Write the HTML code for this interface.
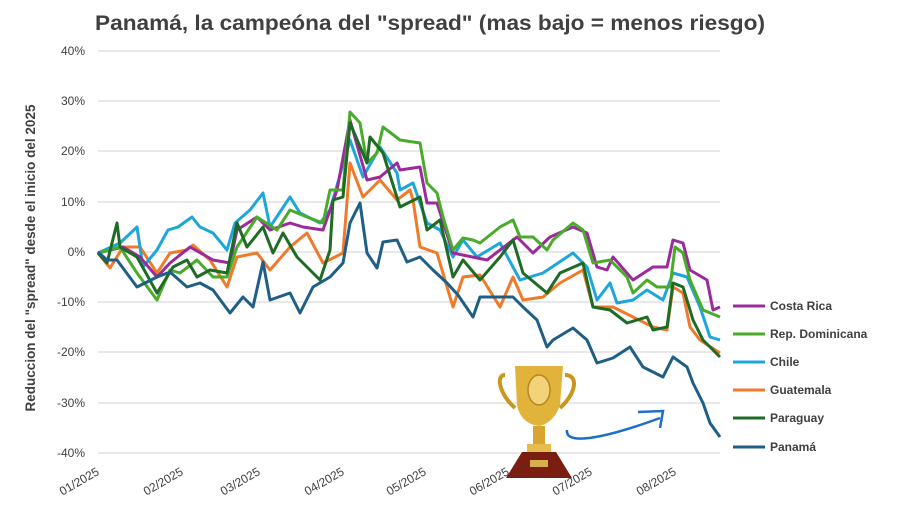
<!DOCTYPE html>
<html><head><meta charset="utf-8"><style>
body{margin:0;background:#fff;}
svg{display:block;font-family:"Liberation Sans",sans-serif;}
</style></head><body>
<svg width="900" height="506" viewBox="0 0 900 506">
<rect width="900" height="506" fill="#fff"/>
<text x="430" y="30" text-anchor="middle" font-size="21" font-weight="bold" fill="#404040" textLength="670" lengthAdjust="spacingAndGlyphs">Panamá, la campeóna del "spread" (mas bajo = menos riesgo)</text>
<g stroke="#d9d9d9" stroke-width="1.3">
<line x1="98" x2="720" y1="51" y2="51"/><line x1="98" x2="720" y1="101" y2="101"/><line x1="98" x2="720" y1="151" y2="151"/><line x1="98" x2="720" y1="202" y2="202"/><line x1="98" x2="720" y1="252" y2="252"/><line x1="98" x2="720" y1="302" y2="302"/><line x1="98" x2="720" y1="352" y2="352"/><line x1="98" x2="720" y1="403" y2="403"/><line x1="98" x2="720" y1="453" y2="453"/>
</g>
<g font-size="12" fill="#404040" text-anchor="end">
<text x="85" y="55">40%</text><text x="85" y="105">30%</text><text x="85" y="155">20%</text><text x="85" y="206">10%</text><text x="85" y="256">0%</text><text x="85" y="306">-10%</text><text x="85" y="356">-20%</text><text x="85" y="407">-30%</text><text x="85" y="457">-40%</text>
</g>
<text transform="translate(35,258) rotate(-90)" text-anchor="middle" font-size="13.5" font-weight="bold" fill="#404040">Reduccion del "spread" desde el inicio del 2025</text>
<g font-size="12" fill="#404040" text-anchor="end">
<text transform="translate(100,474) rotate(-30)">01/2025</text>
<text transform="translate(184,474) rotate(-30)">02/2025</text>
<text transform="translate(261,474) rotate(-30)">03/2025</text>
<text transform="translate(345,474) rotate(-30)">04/2025</text>
<text transform="translate(427,474) rotate(-30)">05/2025</text>
<text transform="translate(510,474) rotate(-30)">06/2025</text>
<text transform="translate(593,474) rotate(-30)">07/2025</text>
<text transform="translate(677,474) rotate(-30)">08/2025</text>
</g>
<g fill="none" stroke-width="3" stroke-linejoin="round">
<polyline stroke="#ef7a2a" points="98,253 110,268 123,247 140,247 157,273 170,253 187,250 193,245 210,260 227,287 237,257 257,253 270,270 290,247 307,233 323,263 343,253 350,163 363,197 380,180 397,200 410,190 413,200 420,247 437,253 453,307 463,277 480,275 500,307 513,277 523,300 543,297 560,283 583,270 593,307 613,307 633,317 653,327 667,330 673,287 683,293 690,327 700,340 720,353"/>
<polyline stroke="#1ea6db" points="98,253 120,243 137,227 143,267 157,250 168,230 178,227 192,217 200,227 213,233 227,250 235,223 250,210 263,193 270,227 290,197 300,213 320,223 330,210 350,140 363,177 380,147 397,173 400,190 413,183 427,223 440,230 453,257 463,240 477,257 500,243 520,280 543,273 573,253 587,267 597,300 610,283 617,303 633,300 647,290 663,300 673,273 687,277 700,307 710,337 720,340"/>
<polyline stroke="#9b2a9b" points="98,253 123,247 140,257 157,277 170,263 190,247 213,260 230,263 237,230 257,217 270,230 290,223 303,227 323,230 337,190 350,120 367,180 380,177 397,163 400,170 420,167 427,203 437,203 453,253 487,260 517,237 533,253 550,237 573,227 587,233 597,267 607,270 613,257 633,280 653,267 667,267 673,240 683,243 690,270 707,280 713,310 720,307"/>
<polyline stroke="#4aab2b" points="98,253 120,247 137,273 157,300 170,270 180,273 197,260 213,277 227,277 237,247 257,217 277,230 290,210 307,217 323,223 330,190 343,190 350,112 360,123 367,163 377,153 383,127 400,140 420,143 427,183 437,193 443,217 453,250 463,238 473,240 480,243 500,227 513,220 520,237 533,237 547,250 553,240 573,223 583,230 593,263 610,260 627,277 633,293 647,280 657,287 670,287 675,247 683,253 690,280 703,310 720,317"/>
<polyline stroke="#1e6b25" points="98,253 107,263 117,223 120,247 137,257 157,293 173,267 187,260 197,277 210,270 227,273 237,223 247,247 263,227 273,253 283,233 297,257 320,280 330,250 333,200 343,197 350,123 367,163 370,137 383,153 400,207 420,197 427,230 440,220 453,277 463,260 480,280 500,257 513,240 523,273 547,293 560,273 583,263 593,307 610,310 627,323 647,317 653,330 667,327 673,283 683,287 693,320 703,340 720,357"/>
<polyline stroke="#1f5f86" points="98,252 107,260 117,260 137,287 157,277 170,272 187,287 200,283 213,290 230,313 243,297 253,307 263,262 270,300 290,293 300,313 313,287 330,277 343,263 350,223 360,203 367,253 377,268 383,242 397,240 407,262 420,257 433,270 447,283 458,295 473,317 480,297 500,297 513,297 523,307 537,320 547,347 553,340 573,328 587,340 597,363 613,358 630,347 643,367 663,377 673,357 687,367 693,383 703,403 710,423 720,437"/>
</g>
<!-- trophy -->
<g>
<path d="M505,375 C495,375 500,395 515,408" fill="none" stroke="#c9961e" stroke-width="4"/>
<path d="M565,375 C580,375 575,395 560,408" fill="none" stroke="#c9961e" stroke-width="4"/>
<path d="M515,366 L563,366 L560,405 C555,420 545,425 539,426 C530,425 520,420 517,405 Z" fill="#e2b33a"/>
<ellipse cx="539" cy="390" rx="11" ry="15" fill="#f3d37a" stroke="#b8861a" stroke-width="1.5"/>
<rect x="533" y="426" width="12" height="20" fill="#d9a531"/>
<rect x="527" y="444" width="24" height="8" fill="#e6bc4a"/>
<path d="M522,452 L556,452 L572,478 L506,478 Z" fill="#7a1e12"/>
<rect x="530" y="460" width="18" height="7" fill="#d7b04a"/>
</g>
<path d="M567,430 C565,445 600,440 660,418" fill="none" stroke="#1c6fc7" stroke-width="2.5"/>
<path d="M638,412 L663,411 L660,428" fill="none" stroke="#1c6fc7" stroke-width="2.5"/>
<!-- legend -->
<g stroke-width="3">
<line x1="733" x2="765" y1="306" y2="306" stroke="#9b2a9b"/>
<line x1="733" x2="765" y1="334" y2="334" stroke="#4aab2b"/>
<line x1="733" x2="765" y1="362" y2="362" stroke="#1ea6db"/>
<line x1="733" x2="765" y1="390" y2="390" stroke="#ef7a2a"/>
<line x1="733" x2="765" y1="418" y2="418" stroke="#1e6b25"/>
<line x1="733" x2="765" y1="447" y2="447" stroke="#1f5f86"/>
</g>
<g font-size="12" font-weight="bold" fill="#404040">
<text x="770" y="310">Costa Rica</text>
<text x="770" y="338">Rep. Dominicana</text>
<text x="770" y="366">Chile</text>
<text x="770" y="394">Guatemala</text>
<text x="770" y="422">Paraguay</text>
<text x="770" y="451">Panamá</text>
</g>
</svg>
</body></html>
